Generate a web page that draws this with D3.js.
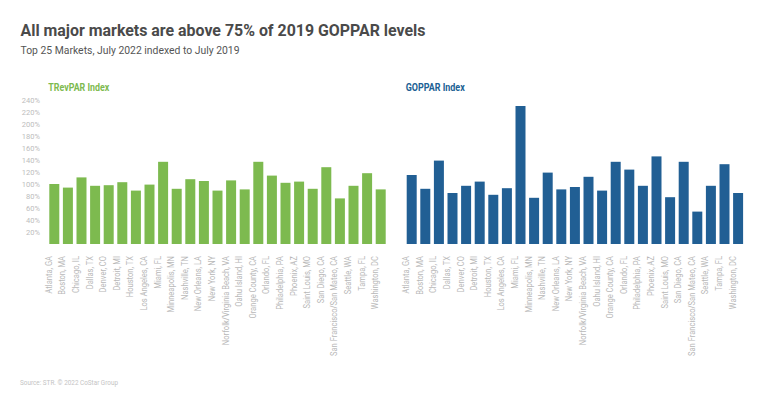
<!DOCTYPE html>
<html>
<head>
<meta charset="utf-8">
<script src="https://cdn.jsdelivr.net/npm/d3@7"></script>
<style>
  html, body { margin: 0; padding: 0; background: #fff; }
  svg { display: block; font-family: Roboto, "Open Sans", sans-serif; }
</style>
</head>
<body>
<svg id="chart" width="768" height="402"></svg>
<script>
const markets = [
  "Atlanta, GA", "Boston, MA", "Chicago, IL", "Dallas, TX", "Denver, CO",
  "Detroit, MI", "Houston, TX", "Los Angeles, CA", "Miami, FL", "Minneapolis, MN",
  "Nashville, TN", "New Orleans, LA", "New York, NY", "Norfolk/Virginia Beach, VA", "Oahu Island, HI",
  "Orange County, CA", "Orlando, FL", "Philadelphia, PA", "Phoenix, AZ", "Saint Louis, MO",
  "San Diego, CA", "San Francisco/San Mateo, CA", "Seattle, WA", "Tampa, FL", "Washington, DC"
];
const trevparIndex = [100, 94, 111, 97, 98, 103, 89, 99, 137, 92, 108, 105, 89, 106, 91, 137, 114, 102, 104, 92, 128, 76, 97, 118, 91];
const gopparIndex = [115, 92, 139, 85, 97, 104, 82, 93, 230, 77, 119, 91, 95, 112, 89, 137, 124, 97, 146, 78, 137, 54, 97, 133, 85];
const yTicks = [20, 40, 60, 80, 100, 120, 140, 160, 180, 200, 220, 240];

const titleText = "All major markets are above 75% of 2019 GOPPAR levels";
const subtitleText = "Top 25 Markets, July 2022 indexed to July 2019";
const sourceText = "Source: STR. \u00A9 2022 CoStar Group";

const svg = d3.select("#chart");

function fit(sel, width) {
  sel.each(function () {
    const w = this.getComputedTextLength();
    if (w > 0) d3.select(this).attr("textLength", width).attr("lengthAdjust", "spacingAndGlyphs");
  });
}

svg.append("text").attr("x", 20.5).attr("y", 36)
  .attr("font-size", 16).attr("font-weight", 700).attr("fill", "#4a4a4a")
  .text(titleText).call(fit, 405);
svg.append("text").attr("x", 20.5).attr("y", 53.5)
  .attr("font-size", 11).attr("fill", "#555").text(subtitleText).call(fit, 219);
svg.append("text").attr("x", 20).attr("y", 385)
  .attr("font-size", 7).attr("fill", "#c4c4c4").text(sourceText).call(fit, 98);

const y = d3.scaleLinear().domain([0, 240]).range([244, 100]);

const panels = [
  { title: "TRevPAR Index", values: trevparIndex, color: "#7dba4f", x0: 47.5, titleW: 61, showY: true },
  { title: "GOPPAR Index", values: gopparIndex, color: "#215f94", x0: 404.9, titleW: 59, showY: false }
];

const labelFont = 8.5;
// condensed factor from longest label
const probe = svg.append("text").attr("font-size", labelFont).text("San Francisco/San Mateo, CA");
const condense = 100 / probe.node().getComputedTextLength();
probe.remove();

panels.forEach(p => {
  const x = d3.scaleBand().domain(markets).range([p.x0, p.x0 + 25 * 13.6])
    .paddingInner(0.265).paddingOuter(0.1325);
  const g = svg.append("g");

  g.append("text").attr("x", p.x0 + 0.8).attr("y", 90.5)
    .attr("font-size", 10).attr("font-weight", 700).attr("fill", p.color)
    .text(p.title).call(fit, p.titleW);

  g.selectAll("rect.bar").data(p.values).join("rect")
    .attr("class", "bar")
    .attr("x", (d, i) => x(markets[i]))
    .attr("width", x.bandwidth())
    .attr("y", d => y(d))
    .attr("height", d => y(0) - y(d))
    .attr("fill", p.color);

  const xa = g.append("g").attr("transform", `translate(0,${y(0)})`)
    .call(d3.axisBottom(x).tickSize(0));
  xa.select(".domain").remove();
  xa.selectAll("text")
    .attr("transform", "rotate(-90)")
    .attr("x", -12).attr("y", -2.6).attr("dy", 0)
    .attr("font-size", labelFont).attr("font-family", "Roboto")
    .attr("fill", "#b8b8b8")
    .style("text-anchor", "end")
    .each(function () {
      const w = this.getComputedTextLength();
      d3.select(this).attr("textLength", w * condense).attr("lengthAdjust", "spacingAndGlyphs");
    });

  if (p.showY) {
    const ya = g.append("g").attr("transform", "translate(40,0)")
      .call(d3.axisLeft(y).tickValues(yTicks).tickSize(0).tickPadding(0).tickFormat(d => d + "%"));
    ya.select(".domain").remove();
    ya.selectAll("text").attr("font-size", 7.5).attr("font-family", "Roboto").attr("fill", "#bdbdbd");
  }
});
</script>
</body>
</html>
